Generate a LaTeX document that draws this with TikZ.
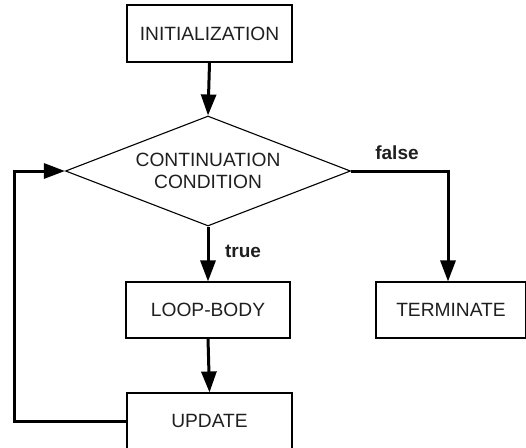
\documentclass[tikz,border=0pt]{standalone}
\usepackage{fontspec}
\setmainfont{Liberation Sans}
\usetikzlibrary{arrows.meta,shapes.geometric}

\begin{document}
\begin{tikzpicture}[x=1pt,y=-1pt,
  stepbox/.style={draw=black,line width=1.1pt,rectangle,inner sep=0pt,
    minimum width=165pt,minimum height=57pt,text=black!88,
    font=\fontsize{19.2}{22}\selectfont},
  decision/.style={draw=black,line width=1.1pt,diamond,inner sep=0pt,
    minimum width=285pt,minimum height=110pt,aspect=2.59,align=center,
    text=black!88,font=\fontsize{19.2}{22}\selectfont},
  flow/.style={line width=3pt,-{Triangle[length=21pt,width=15pt]}},
  branch/.style={text=black!88,font=\bfseries\fontsize{19}{22}\selectfont}]
  \useasboundingbox (0,0) rectangle (526,447);

  % boxes of the loop
  \node[stepbox] (init) at (209.5,33.5) {INITIALIZATION};
  \node[decision] (cond) at (208,171) {CONTINUATION\\CONDITION};
  \node[stepbox,minimum width=164pt,minimum height=56pt] (body) at (208,310) {LOOP-BODY};
  \node[stepbox,minimum width=150pt,minimum height=56pt] (term) at (451,310) {TERMINATE};
  \node[stepbox,minimum height=56pt] (upd) at (209.5,421) {UPDATE};

  % connectors
  \coordinate (fturn) at (448,171);
  \coordinate (lb) at (14,421);
  \coordinate (lt) at (14,171);
  \draw[flow] (init.south) -- (cond.north);
  \draw[flow] (cond.south) -- (body.north);
  \draw[flow] (body.south) -- (upd.north);
  \draw[flow] (cond.east) -- (fturn) -- (fturn |- term.north);
  \draw[flow] (upd.west) -- (lb) -- (lt) -- (cond.west);

  % branch labels
  \node[branch] (lfalse) at (397,153) {false};
  \node[branch] (ltrue) at (243,251) {true};
\end{tikzpicture}
\end{document}
